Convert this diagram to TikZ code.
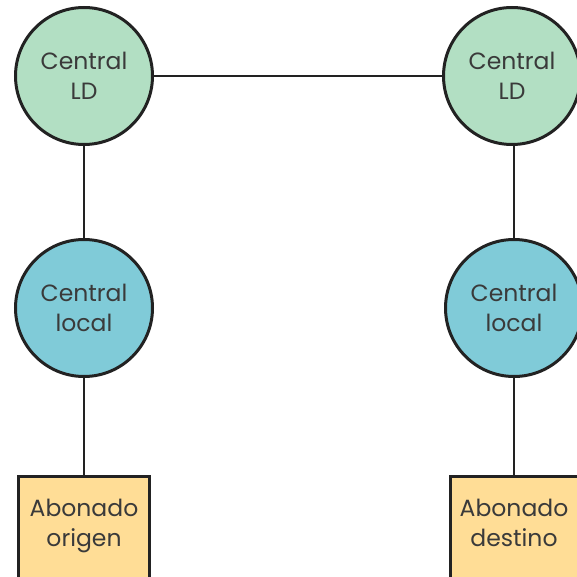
\documentclass[tikz,border=0pt]{standalone}
\usepackage{fontspec}
\setmainfont{Poppins}
\definecolor{ldgreen}{RGB}{178,223,195}
\definecolor{localblue}{RGB}{128,203,216}
\definecolor{subyellow}{RGB}{255,221,150}
\definecolor{edge}{RGB}{34,34,34}
\definecolor{ink}{RGB}{58,58,58}
\begin{document}
\begin{tikzpicture}[x=1pt,y=-1pt,
  label text/.style={text=ink,align=center,font=\fontsize{23.5}{29.5}\selectfont,
    text depth=0pt,inner sep=0pt},
  hub/.style={circle,draw=edge,line width=3pt,minimum size=137pt,inner sep=0pt,label text},
  ldhub/.style={hub,fill=ldgreen},
  localhub/.style={hub,fill=localblue},
  subscriber/.style={rectangle,draw=edge,line width=3pt,fill=subyellow,
    minimum width=131pt,minimum height=104pt,inner sep=0pt,anchor=north},
  link/.style={draw=edge,line width=1.8pt}]
\useasboundingbox (0,0) rectangle (576,577);
% long-distance exchanges
\node[ldhub] (ldA) at (84,76) {Central\\LD};
\node[ldhub] (ldB) at (512,76) {Central\\LD};
% local exchanges
\node[localhub] (locA) at (84,308) {Central\\local};
\node[localhub] (locB) at (514,308) {Central\\local};
% subscribers
\node[subscriber] (subA) at (84,475) {};
\node[label text] (subAtxt) at (84,523) {Abonado\\origen};
\node[subscriber] (subB) at (516,475) {};
\node[label text] (subBtxt) at (514,523) {Abonado\\destino};
% trunk and access lines
\draw[link] (ldA) -- (ldB);
\draw[link] (ldA) -- (locA);
\draw[link] (locA) -- (subA.north -| locA);
\draw[link] (locB.north) -- (locB.north |- ldB.south);
\draw[link] (locB.south) -- (locB.south |- subB.north);
\end{tikzpicture}
\end{document}
